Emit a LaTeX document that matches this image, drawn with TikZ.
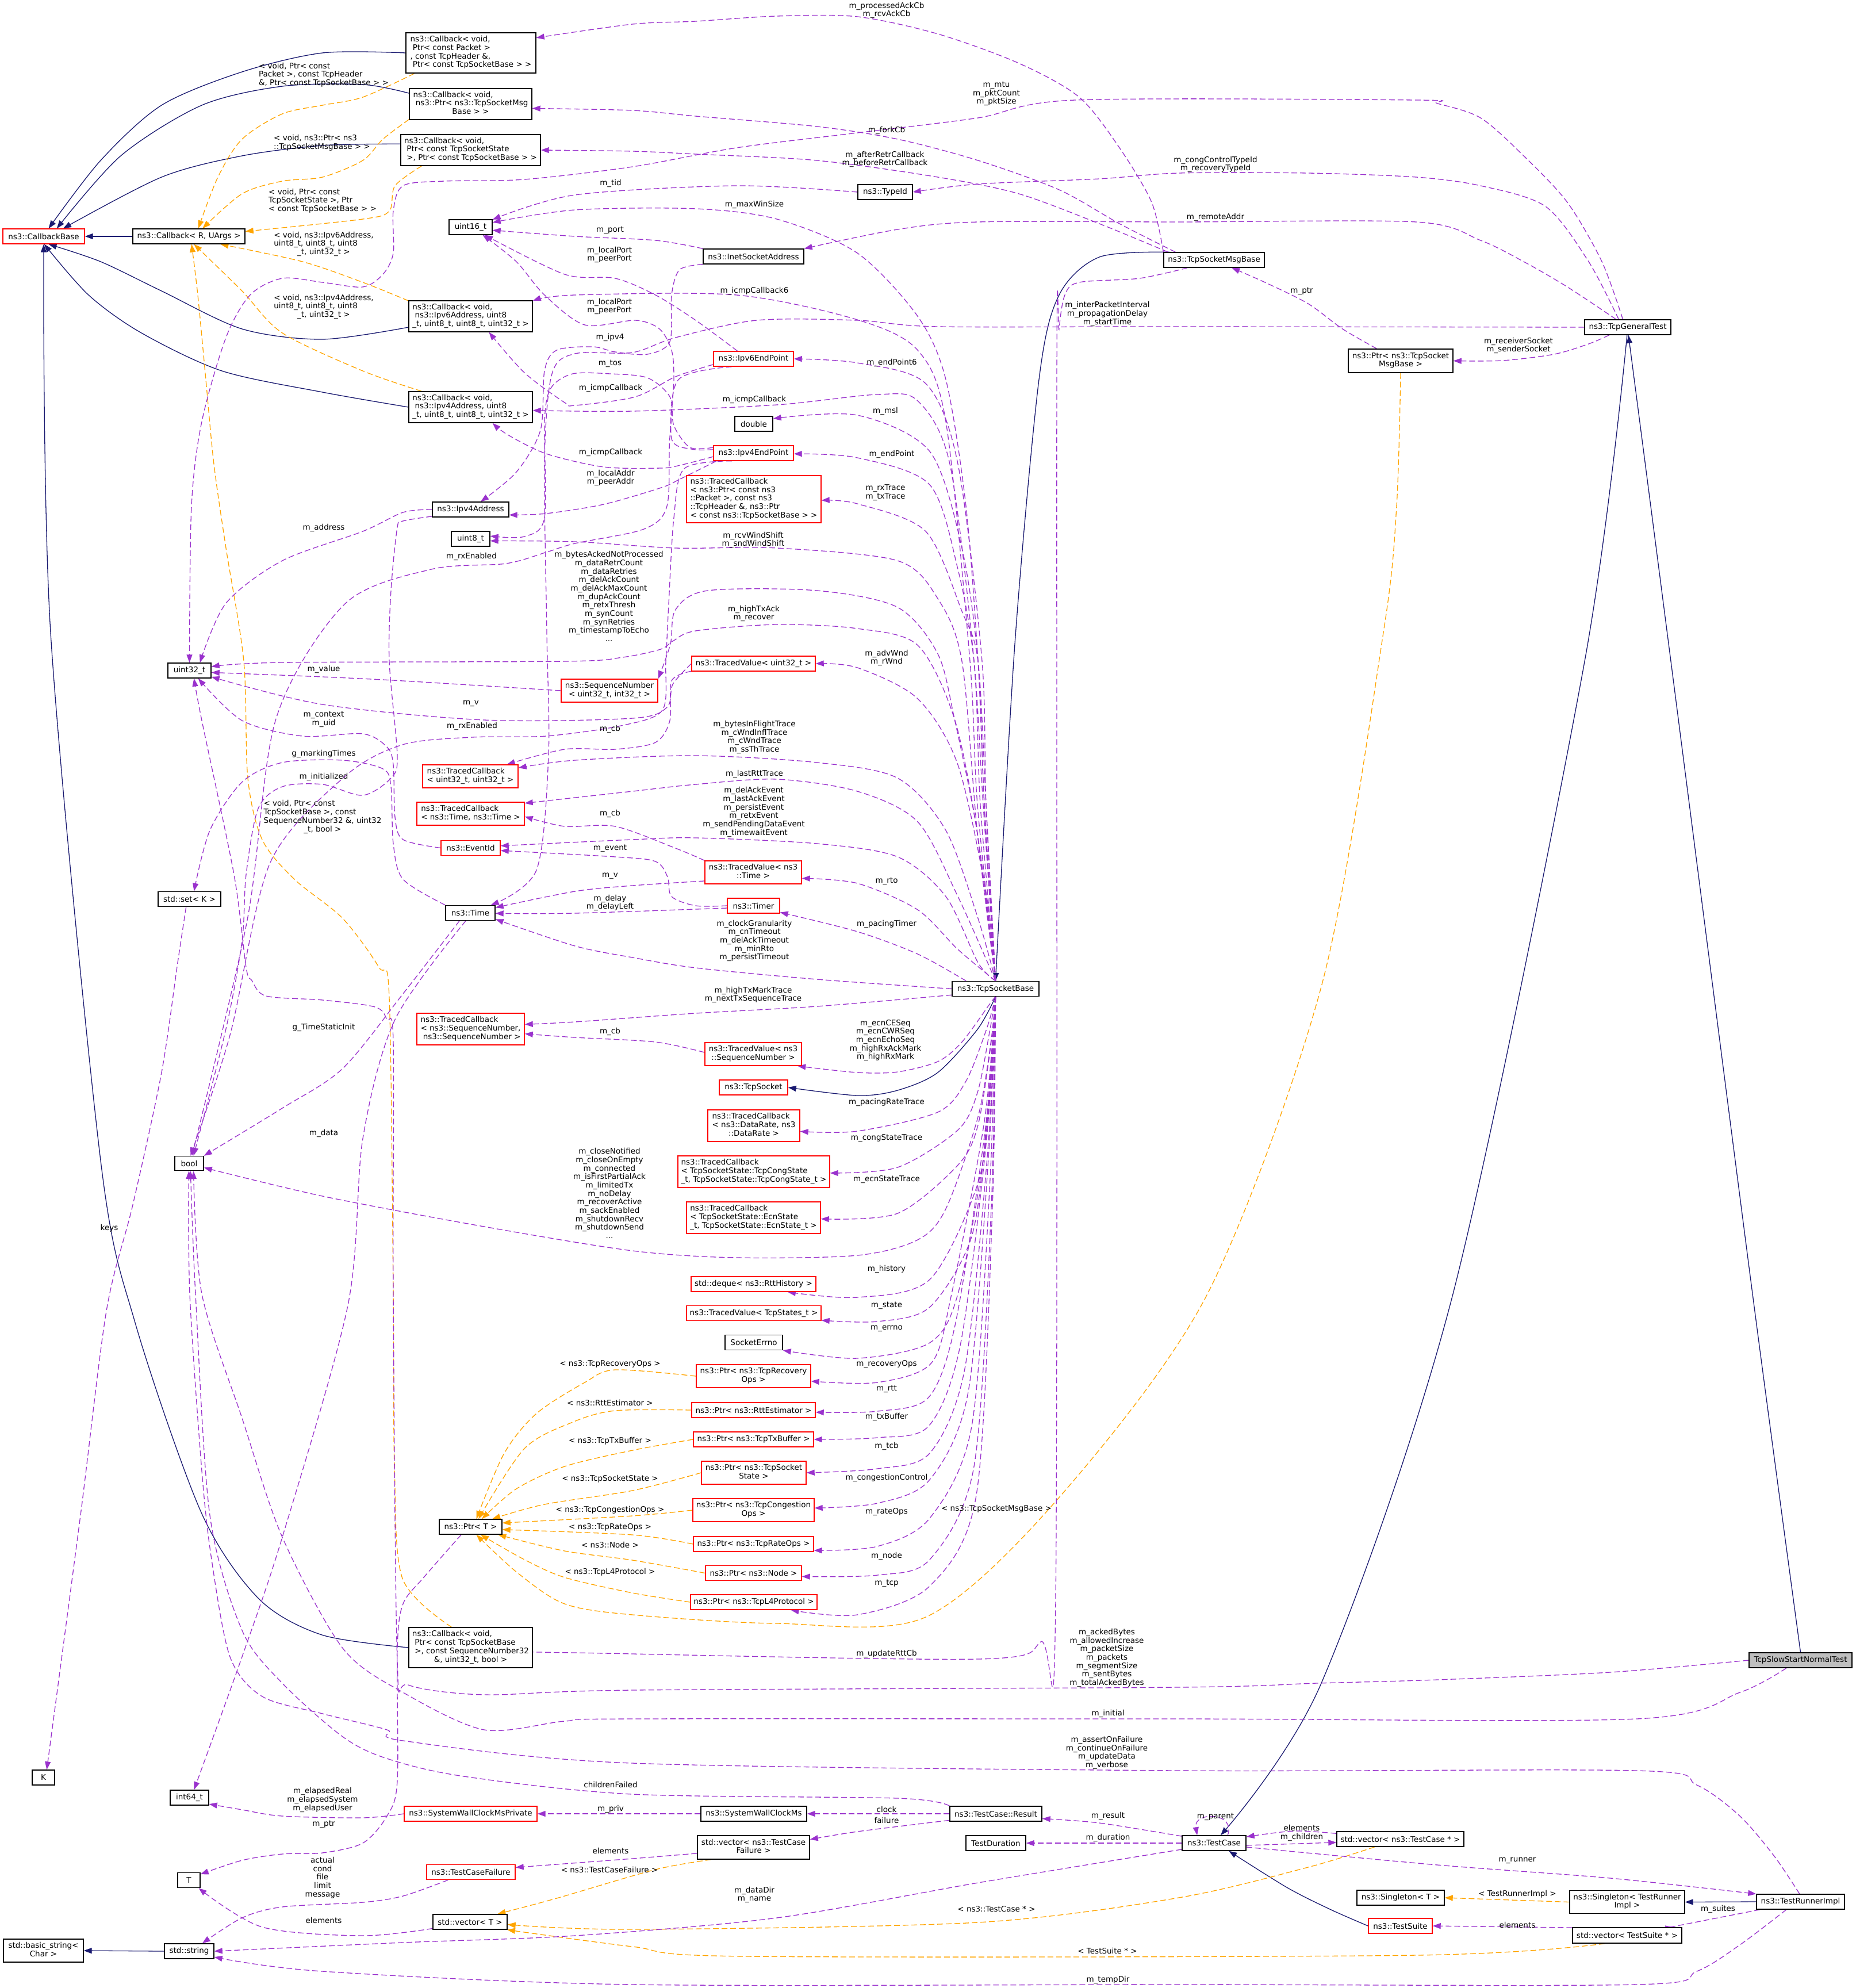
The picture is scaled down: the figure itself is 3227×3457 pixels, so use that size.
\documentclass[tikz,border=0pt]{standalone}
\usepackage{fontspec}
\setmainfont{DejaVu Sans}
\usetikzlibrary{arrows.meta,backgrounds,calc}
\definecolor{cmem}{HTML}{9A32CD}
\definecolor{cinh}{HTML}{191970}
\definecolor{ctpl}{HTML}{FFA500}
\definecolor{cgray}{HTML}{BFBFBF}
\newcommand\dfs{\fontsize{13.5}{14.7}\selectfont}
\newcommand\LL[1]{\begin{tabular}{@{}l@{}}#1\end{tabular}}
\newcommand\Lc[1]{\multicolumn{1}{@{}c@{}}{#1}}
\tikzset{
  nb/.style={draw=black, line width=1.4pt, fill=white, inner sep=0pt, font=\dfs, align=center},
  nr/.style={nb, draw=red},
  ng/.style={nb, fill=cgray},
  sz/.style 2 args={minimum width=#1pt, minimum height=#2pt},
  lb/.style={inner sep=0pt, font=\dfs, align=center},
  tip/.style={-{Triangle[length=14pt,width=10pt]}},
  mem/.style={draw=cmem, line width=1.3pt, dash pattern=on 10pt off 5pt, tip},
  inh/.style={draw=cinh, line width=1.3pt, tip},
  tpl/.style={draw=ctpl, line width=1.3pt, dash pattern=on 10pt off 5pt, tip},
}
\begin{document}
\begin{tikzpicture}[x=1pt,y=-1pt]
\useasboundingbox (0,0) rectangle (3227,3457);
% ---------------- nodes ----------------
\node[nr, sz={142}{26}] (cbb) at (76,411) {ns3::CallbackBase};
\node[nb, sz={195}{26}] (cbR) at (328.5,411) {ns3::Callback< R, UArgs >};
\node[nb, sz={226}{70}] (cbPkt) at (819,92) {\LL{ns3::Callback< void,\\\ Ptr< const Packet >\\, const TcpHeader \&,\\\Lc{\ Ptr< const TcpSocketBase > >}}};
\node[nb, sz={213}{54}] (cbMsg) at (818.5,181) {\LL{ns3::Callback< void,\\\ ns3::Ptr< ns3::TcpSocketMsg\\\Lc{Base > >}}};
\node[nb, sz={243}{54}] (cbState) at (818.5,261) {\LL{ns3::Callback< void,\\\ Ptr< const TcpSocketState\\\Lc{\ >, Ptr< const TcpSocketBase > >}}};
\node[nb, sz={75}{26}] (u16) at (818.5,395) {uint16\_t};
\node[nb, sz={215}{54}] (cbIpv6) at (818.5,550) {\LL{ns3::Callback< void,\\\ ns3::Ipv6Address, uint8\\\Lc{\_t, uint8\_t, uint8\_t, uint32\_t >}}};
\node[nb, sz={215}{54}] (cbIpv4) at (818.5,708) {\LL{ns3::Callback< void,\\\ ns3::Ipv4Address, uint8\\\Lc{\_t, uint8\_t, uint8\_t, uint32\_t >}}};
\node[nb, sz={133}{26}] (ipv4addr) at (818.5,886) {ns3::Ipv4Address};
\node[nb, sz={67}{26}] (u8) at (818.5,937) {uint8\_t};
\node[nb, sz={95}{26}] (typeid) at (1539.5,334) {ns3::TypeId};
\node[nb, sz={175}{26}] (inet) at (1310.5,446) {ns3::InetSocketAddress};
\node[nr, sz={139}{26}] (ip6ep) at (1310.5,624) {ns3::Ipv6EndPoint};
\node[nb, sz={66}{26}] (dbl) at (1311,737) {double};
\node[nr, sz={139}{26}] (ip4ep) at (1310.5,788) {ns3::Ipv4EndPoint};
\node[nr, sz={234}{82}] (tcPkt) at (1311,868) {\LL{ns3::TracedCallback\\< ns3::Ptr< const ns3\\::Packet >, const ns3\\::TcpHeader \&, ns3::Ptr\\\Lc{< const ns3::TcpSocketBase > >}}};
\node[nb, sz={175}{26}] (msgbase) at (2111.5,452) {ns3::TcpSocketMsgBase};
\node[nb, sz={150}{26}] (gentest) at (2831,569) {ns3::TcpGeneralTest};
\node[nb, sz={182}{41}] (ptrMsg) at (2436,627.5) {\LL{ns3::Ptr< ns3::TcpSocket\\\Lc{MsgBase >}}};
\node[nb, sz={75}{26}] (u32) at (329.5,1166) {uint32\_t};
\node[nr, sz={168}{40}] (seqnum) at (1060,1201) {\LL{ns3::SequenceNumber\\\Lc{< uint32\_t, int32\_t >}}};
\node[nr, sz={215}{26}] (tvU32) at (1310.5,1154) {ns3::TracedValue< uint32\_t >};
\node[nr, sz={166}{40}] (tcU32) at (818,1350) {\LL{ns3::TracedCallback\\\Lc{< uint32\_t, uint32\_t >}}};
\node[nr, sz={187}{40}] (tcTime) at (818.5,1415) {\LL{ns3::TracedCallback\\\Lc{< ns3::Time, ns3::Time >}}};
\node[nr, sz={103}{26}] (eventid) at (818.5,1474.5) {ns3::EventId};
\node[nr, sz={168}{40}] (tvTime) at (1310,1517) {\LL{ns3::TracedValue< ns3\\\Lc{::Time >}}};
\node[nb, sz={86}{26}] (time) at (818,1587.5) {ns3::Time};
\node[nr, sz={91}{26}] (timer) at (1310.5,1575) {ns3::Timer};
\node[nb, sz={109}{26}] (setK) at (329.5,1563.5) {std::set< K >};
\node[nb, sz={151}{26}] (tsb) at (1731.5,1719.5) {ns3::TcpSocketBase};
\node[nr, sz={187}{55}] (tcSeq) at (818.5,1789.5) {\LL{ns3::TracedCallback\\< ns3::SequenceNumber,\\\Lc{\ ns3::SequenceNumber >}}};
\node[nr, sz={168}{40}] (tvSeq) at (1310,1833) {\LL{ns3::TracedValue< ns3\\\Lc{::SequenceNumber >}}};
\node[nr, sz={119}{26}] (tcpsock) at (1310.5,1891) {ns3::TcpSocket};
\node[nr, sz={160}{55}] (tcRate) at (1311,1957.5) {\LL{ns3::TracedCallback\\< ns3::DataRate, ns3\\\Lc{::DataRate >}}};
\node[nr, sz={264}{55}] (tcCong) at (1311,2037.5) {\LL{ns3::TracedCallback\\< TcpSocketState::TcpCongState\\\Lc{\_t, TcpSocketState::TcpCongState\_t >}}};
\node[nb, sz={50}{25}] (bool) at (329,2023) {bool};
\node[nr, sz={233}{55}] (tcEcn) at (1310.5,2117.5) {\LL{ns3::TracedCallback\\< TcpSocketState::EcnState\\\Lc{\_t, TcpSocketState::EcnState\_t >}}};
\node[nr, sz={217}{26}] (deque) at (1310.5,2233) {std::deque< ns3::RttHistory >};
\node[nr, sz={234}{26}] (tvStates) at (1311,2283.5) {ns3::TracedValue< TcpStates\_t >};
\node[nb, sz={100}{26}] (errno) at (1311,2334.5) {SocketErrno};
\node[nr, sz={199}{40}] (pRec) at (1310.5,2393) {\LL{ns3::Ptr< ns3::TcpRecovery\\\Lc{Ops >}}};
\node[nr, sz={215}{26}] (pRtt) at (1310.5,2452) {ns3::Ptr< ns3::RttEstimator >};
\node[nr, sz={209}{26}] (pTx) at (1310.5,2503) {ns3::Ptr< ns3::TcpTxBuffer >};
\node[nr, sz={182}{40}] (pTcb) at (1311,2561) {\LL{ns3::Ptr< ns3::TcpSocket\\\Lc{State >}}};
\node[nr, sz={211}{40}] (pCong) at (1310.5,2626) {\LL{ns3::Ptr< ns3::TcpCongestion\\\Lc{Ops >}}};
\node[nr, sz={209}{26}] (pRate) at (1310.5,2685) {ns3::Ptr< ns3::TcpRateOps >};
\node[nr, sz={167}{26}] (pNode) at (1310.5,2735.5) {ns3::Ptr< ns3::Node >};
\node[nr, sz={220}{26}] (pL4) at (1311,2786) {ns3::Ptr< ns3::TcpL4Protocol >};
\node[nb, sz={109}{26}] (ptrT) at (818.5,2655) {ns3::Ptr< T >};
\node[nb, sz={215}{70}] (cbSeq) at (818.5,2865) {\LL{ns3::Callback< void,\\\ Ptr< const TcpSocketBase\\\ >, const SequenceNumber32\\\Lc{\&, uint32\_t, bool >}}};
\node[nb, sz={39}{26}] (K) at (75.5,3091) {K};
\node[nb, sz={67}{26}] (int64) at (329.5,3126) {int64\_t};
\node[nr, sz={231}{26}] (swcmp) at (818.5,3154) {ns3::SystemWallClockMsPrivate};
\node[nb, sz={39}{26}] (T) at (328.5,3269.5) {T};
\node[nr, sz={154}{26}] (tcf) at (819,3255.5) {ns3::TestCaseFailure};
\node[nb, sz={129}{26}] (vecT) at (817.5,3342) {std::vector< T >};
\node[nb, sz={139}{40}] (bstr) at (75.5,3392) {\LL{std::basic\_string<\\\Lc{Char >}}};
\node[nb, sz={86}{26}] (str) at (329,3393) {std::string};
\node[nb, sz={184}{26}] (swcm) at (1311,3154) {ns3::SystemWallClockMs};
\node[nb, sz={160}{26}] (result) at (1732,3154) {ns3::TestCase::Result};
\node[nb, sz={195}{41}] (vecTCF) at (1310.5,3212.5) {\LL{std::vector< ns3::TestCase\\\Lc{Failure >}}};
\node[nb, sz={104}{26}] (duration) at (1732,3205) {TestDuration};
\node[nb, sz={111}{26}] (testcase) at (2111.5,3205) {ns3::TestCase};
\node[nb, sz={221}{26}] (vecTC) at (2435.5,3198) {std::vector< ns3::TestCase * >};
\node[ng, sz={179}{26}] (tssnt) at (3131.5,2887) {TcpSlowStartNormalTest};
\node[nb, sz={153}{26}] (runner) at (3131.5,3307) {ns3::TestRunnerImpl};
\node[nb, sz={200}{40}] (singTR) at (2830,3307.5) {\LL{ns3::Singleton< TestRunner\\\Lc{Impl >}}};
\node[nb, sz={152}{26}] (singT) at (2436,3300) {ns3::Singleton< T >};
\node[nr, sz={111}{26}] (suite) at (2435.5,3349) {ns3::TestSuite};
\node[nb, sz={190}{27}] (vecTS) at (2830,3365.5) {std::vector< TestSuite * >};
\coordinate (mbA) at ($(msgbase.north west)+(21,0)$);
\coordinate (mbB) at ($(msgbase.north west)+(8,0)$);
\coordinate (mbC) at ($(msgbase.south west)+(42,0)$);
% ---------------- labels ----------------
\node[lb] (t1) at (563,131) {\LL{< void, Ptr< const\\Packet >, const TcpHeader\\\Lc{\&, Ptr< const TcpSocketBase > >}}};
\node[lb] (t2) at (560,249) {\LL{< void, ns3::Ptr< ns3\\\Lc{::TcpSocketMsgBase > >}}};
\node[lb] (t3) at (561,350) {\LL{< void, Ptr< const\\TcpSocketState >, Ptr\\\Lc{< const TcpSocketBase > >}}};
\node[lb] (t4) at (563,425) {\LL{< void, ns3::Ipv6Address,\\uint8\_t, uint8\_t, uint8\\\Lc{\_t, uint32\_t >}}};
\node[lb] (t5) at (563,534) {\LL{< void, ns3::Ipv4Address,\\uint8\_t, uint8\_t, uint8\\\Lc{\_t, uint32\_t >}}};
\node[lb] (t6) at (561,1421) {\LL{< void, Ptr< const\\TcpSocketBase >, const\\SequenceNumber32 \&, uint32\\\Lc{\_t, bool >}}};
\node[lb] (t7) at (1061,2372) {< ns3::TcpRecoveryOps >};
\node[lb] (t8) at (1061,2439) {< ns3::RttEstimator >};
\node[lb] (t9) at (1061,2506) {< ns3::TcpTxBuffer >};
\node[lb] (t10) at (1061,2572) {< ns3::TcpSocketState >};
\node[lb] (t11) at (1061,2626) {< ns3::TcpCongestionOps >};
\node[lb] (t12) at (1061,2656) {< ns3::TcpRateOps >};
\node[lb] (t13) at (1061,2686) {< ns3::Node >};
\node[lb] (t14) at (1061,2734) {< ns3::TcpL4Protocol >};
\node[lb] (t15) at (1733,2624) {< ns3::TcpSocketMsgBase >};
\node[lb] (t16) at (1060,3251) {< ns3::TestCaseFailure >};
\node[lb] (t17) at (1733,3320) {< ns3::TestCase * >};
\node[lb] (t18) at (1926,3392) {< TestSuite * >};
\node[lb] (t19) at (2639,3294) {< TestRunnerImpl >};
\node[lb] (m1) at (1542,18) {m\_processedAckCb\\m\_rcvAckCb};
\node[lb] (m2) at (1733,163) {m\_mtu\\m\_pktCount\\m\_pktSize};
\node[lb] (m3) at (1542,227) {m\_forkCb};
\node[lb] (m4) at (1539,277) {m\_afterRetrCallback\\m\_beforeRetrCallback};
\node[lb] (m5) at (2114,286) {m\_congControlTypeId\\m\_recoveryTypeId};
\node[lb] (m6) at (1062,319) {m\_tid};
\node[lb] (m7) at (1312,356) {m\_maxWinSize};
\node[lb] (m8) at (2114,378) {m\_remoteAddr};
\node[lb] (m9) at (1061,400) {m\_port};
\node[lb] (m10) at (1060,443) {m\_localPort\\m\_peerPort};
\node[lb] (m11) at (1312,506) {m\_icmpCallback6};
\node[lb] (m12) at (2264,506) {m\_ptr};
\node[lb] (m13) at (1060,533) {m\_localPort\\m\_peerPort};
\node[lb] (m14) at (1926,546) {m\_interPacketInterval\\m\_propagationDelay\\m\_startTime};
\node[lb] (m15) at (1061,587) {m\_ipv4};
\node[lb] (m16) at (2641,601) {m\_receiverSocket\\m\_senderSocket};
\node[lb] (m17) at (1551,631) {m\_endPoint6};
\node[lb] (m18) at (1061,632) {m\_tos};
\node[lb] (m19) at (1062,675) {m\_icmpCallback};
\node[lb] (m20) at (1312,695) {m\_icmpCallback};
\node[lb] (m21) at (1540,715) {m\_msl};
\node[lb] (m22) at (1062,787) {m\_icmpCallback};
\node[lb] (m23) at (1551,790) {m\_endPoint};
\node[lb] (m24) at (1062,831) {m\_localAddr\\m\_peerAddr};
\node[lb] (m25) at (1540,857) {m\_rxTrace\\m\_txTrace};
\node[lb] (m26) at (563,918) {m\_address};
\node[lb] (m27) at (1310,939) {m\_rcvWindShift\\m\_sndWindShift};
\node[lb] (m28) at (820,968) {m\_rxEnabled};
\node[lb] (m29) at (1059,1037) {m\_bytesAckedNotProcessed\\m\_dataRetrCount\\m\_dataRetries\\m\_delAckCount\\m\_delAckMaxCount\\m\_dupAckCount\\m\_retxThresh\\m\_synCount\\m\_synRetries\\m\_timestampToEcho\\...};
\node[lb] (m30) at (1311,1067) {m\_highTxAck\\m\_recover};
\node[lb] (m31) at (1542,1144) {m\_advWnd\\m\_rWnd};
\node[lb] (m32) at (563,1164) {m\_value};
\node[lb] (m33) at (819,1223) {m\_v};
\node[lb] (m34) at (563,1251) {m\_context\\m\_uid};
\node[lb] (m35) at (1312,1282) {m\_bytesInFlightTrace\\m\_cWndInflTrace\\m\_cWndTrace\\m\_ssThTrace};
\node[lb] (m36) at (821,1263) {m\_rxEnabled};
\node[lb] (m37) at (1061,1268) {m\_cb};
\node[lb] (m38) at (563,1311) {g\_markingTimes};
\node[lb] (m39) at (1312,1346) {m\_lastRttTrace};
\node[lb] (m40) at (563,1351) {m\_initialized};
\node[lb] (m41) at (1311,1412) {m\_delAckEvent\\m\_lastAckEvent\\m\_persistEvent\\m\_retxEvent\\m\_sendPendingDataEvent\\m\_timewaitEvent};
\node[lb] (m42) at (1061,1415) {m\_cb};
\node[lb] (m43) at (1061,1475) {m\_event};
\node[lb] (m44) at (1061,1523) {m\_v};
\node[lb] (m45) at (1542,1532) {m\_rto};
\node[lb] (m46) at (1061,1570) {m\_delay\\m\_delayLeft};
\node[lb] (m47) at (1542,1607) {m\_pacingTimer};
\node[lb] (m48) at (1312,1636) {m\_clockGranularity\\m\_cnTimeout\\m\_delAckTimeout\\m\_minRto\\m\_persistTimeout};
\node[lb] (m49) at (1310,1730) {m\_highTxMarkTrace\\m\_nextTxSequenceTrace};
\node[lb] (m50) at (1540,1809) {m\_ecnCESeq\\m\_ecnCWRSeq\\m\_ecnEchoSeq\\m\_highRxAckMark\\m\_highRxMark};
\node[lb] (m51) at (563,1787) {g\_TimeStaticInit};
\node[lb] (m52) at (1061,1794) {m\_cb};
\node[lb] (m53) at (1542,1917) {m\_pacingRateTrace};
\node[lb] (m54) at (563,1971) {m\_data};
\node[lb] (m55) at (1542,1979) {m\_congStateTrace};
\node[lb] (m56) at (1542,2051) {m\_ecnStateTrace};
\node[lb] (m57) at (1060,2075) {m\_closeNotified\\m\_closeOnEmpty\\m\_connected\\m\_isFirstPartialAck\\m\_limitedTx\\m\_noDelay\\m\_recoverActive\\m\_sackEnabled\\m\_shutdownRecv\\m\_shutdownSend\\...};
\node[lb] (m58) at (190,2136) {keys};
\node[lb] (m59) at (1542,2207) {m\_history};
\node[lb] (m60) at (1542,2270) {m\_state};
\node[lb] (m61) at (1542,2310) {m\_errno};
\node[lb] (m62) at (1542,2372) {m\_recoveryOps};
\node[lb] (m63) at (1542,2415) {m\_rtt};
\node[lb] (m64) at (1542,2464) {m\_txBuffer};
\node[lb] (m65) at (1542,2515) {m\_tcb};
\node[lb] (m66) at (1542,2570) {m\_congestionControl};
\node[lb] (m67) at (1542,2629) {m\_rateOps};
\node[lb] (m68) at (1542,2706) {m\_node};
\node[lb] (m69) at (1542,2753) {m\_tcp};
\node[lb] (m70) at (1542,2876) {m\_updateRttCb};
\node[lb] (m71) at (1925,2883) {m\_ackedBytes\\m\_allowedIncrease\\m\_packetSize\\m\_packets\\m\_segmentSize\\m\_sentBytes\\m\_totalAckedBytes};
\node[lb] (m72) at (1927,2980) {m\_initial};
\node[lb] (m73) at (1925,3048) {m\_assertOnFailure\\m\_continueOnFailure\\m\_updateData\\m\_verbose};
\node[lb] (m74) at (1062,3103) {childrenFailed};
\node[lb] (m75) at (561,3130) {m\_elapsedReal\\m\_elapsedSystem\\m\_elapsedUser};
\node[lb] (m76) at (1062,3146) {m\_priv};
\node[lb] (m77) at (1542,3146) {clock};
\node[lb] (m78) at (2114,3159) {m\_parent};
\node[lb] (m79) at (1927,3158) {m\_result};
\node[lb] (m80) at (1542,3165) {failure};
\node[lb] (m81) at (563,3172) {m\_ptr};
\node[lb] (m82) at (2264,3178) {elements};
\node[lb] (m83) at (2264,3195) {m\_children};
\node[lb] (m84) at (1927,3196) {m\_duration};
\node[lb] (m85) at (1062,3218) {elements};
\node[lb] (m86) at (2639,3235) {m\_runner};
\node[lb] (m87) at (561,3265) {actual\\cond\\file\\limit\\message};
\node[lb] (m88) at (1312,3295) {m\_dataDir\\m\_name};
\node[lb] (m89) at (2988,3320) {m\_suites};
\node[lb] (m90) at (563,3339) {elements};
\node[lb] (m91) at (2639,3347) {elements};
\node[lb] (m92) at (1927,3443) {m\_tempDir};
% ---------------- edges ----------------
\begin{pgfonlayer}{background}
\fill[white] (0,0) rectangle (3227,3457);
% inheritance
\draw[inh] plot[smooth] coordinates {(cbPkt.west) (561,92) (421,125) (281,183) (175,279) (cbb.58)};
\draw[inh] plot[smooth] coordinates {(cbMsg.170) (631,147) (491,150) (351,183) (210,271) (cbb.31)};
\draw[inh] plot[smooth] coordinates {(cbState.175) (561,253) (421,271) (281,308) (cbb.22)};
\draw[inh] (cbR.west) -- (cbb.east);
\draw[inh] plot[smooth] coordinates {(cbIpv6.-170) (561,590) (421,572) (281,506) (175,455) (cbb.-58)};
\draw[inh] plot[smooth] coordinates {(cbIpv4.west) (561,682) (386,645) (246,579) (154,513) (cbb.-86)};
\draw[inh] plot[smooth] coordinates {(cbSeq.west) (560,2843) (450,2780) (350,2630) (235,2300) (175,2018) (88,1100) (cbb.south)};
\draw[inh] plot[smooth] coordinates {(msgbase.170) (1912,447) (1842,513) (1807,660) (1765,1120) (tsb.north)};
\draw[inh] plot[smooth] coordinates {(tsb.south) (1700,1790) (1631,1865) (1561,1896) (1491,1905) (tcpsock.east)};
\draw[inh] plot[smooth] coordinates {(gentest.-95) (2756,1150) (2527,2250) (2298,2927) (testcase.50)};
\draw[inh] plot[smooth] coordinates {(tssnt.north) (3048,2250) (2906,1150) (gentest.-85)};
\draw[inh] plot[smooth] coordinates {(suite.west) (2313,3320) (2238,3282) (testcase.-28)};
\draw[inh] (runner.west) -- (singTR.east);
\draw[inh] (str.west) -- (bstr.east);
% templates
\draw[tpl] plot[smooth] coordinates {(cbPkt.200) (631,169) (561,183) (491,198) (421,242) (379,308) (cbR.40)};
\draw[tpl] plot[smooth] coordinates {(cbMsg.194) (666,242) (631,279) (561,308) (491,315) (421,337) (cbR.30)};
\draw[tpl] plot[smooth] coordinates {(cbState.-162) (687,323) (677,367) (631,381) (cbR.5)};
\draw[tpl] plot[smooth] coordinates {(cbIpv6.166) (631,491) (526,455) (cbR.-14)};
\draw[tpl] plot[smooth] coordinates {(cbIpv4.162) (631,645) (491,579) (421,506) (cbR.-57)};
\draw[tpl] plot[smooth] coordinates {(cbSeq.133) (700,2745) (686,2550) (684,2250) (677,1735) (659,1682) (596,1597) (512,1529) (456,1460) (431,1353) (424,1150) (393,953) (372,807) (358,660) (344,513) (cbR.-71)};
\draw[tpl] plot[smooth] coordinates {(pRec.west) (1070,2382) (1017,2404) (933,2458) (877,2527) (ptrT.54)};
\draw[tpl] plot[smooth] coordinates {(pRtt.west) (1070,2453) (996,2473) (912,2519) (ptrT.45)};
\draw[tpl] plot[smooth] coordinates {(pTx.west) (1100,2522) (982,2550) (898,2589) (ptrT.35)};
\draw[tpl] plot[smooth] coordinates {(pTcb.west) (1100,2592) (947,2616) (ptrT.20)};
\draw[tpl] plot[smooth] coordinates {(pCong.west) (1100,2636) (ptrT.7)};
\draw[tpl] plot[smooth] coordinates {(pRate.west) (1100,2669) (ptrT.-5)};
\draw[tpl] plot[smooth] coordinates {(pNode.west) (1100,2713) (982,2697) (ptrT.-16)};
\draw[tpl] plot[smooth] coordinates {(pL4.west) (1100,2770) (982,2743) (912,2712) (ptrT.-38)};
\draw[tpl] plot[smooth] coordinates {(ptrMsg.south) (2429,880) (2406,1100) (2299,1712) (2100,2250) (1842,2604) (1610,2812) (1351,2823) (1100,2808) (982,2789) (900,2735) (ptrT.-54)};
\draw[tpl] plot[smooth] coordinates {(vecTCF.196) (1140,3251) (968,3301) (vecT.16)};
\draw[tpl] plot[smooth] coordinates {(vecTC.197) (2275,3247) (2050,3300) (1700,3343) (1100,3355) (vecT.-4)};
\draw[tpl] plot[smooth] coordinates {(vecTS.200) (2463,3400) (1300,3402) (1100,3385) (vecT.-12)};
\draw[tpl] (singTR.west) -- (singT.east);
% members of TcpSocketMsgBase
\draw[mem] plot[smooth] coordinates {(msgbase.north west) (2003,352) (1947,257) (1877,169) (1772,110) (1631,59) (1491,29) (1351,28) (1210,37) (1100,42) (cbPkt.13)};
\draw[mem] plot[smooth] coordinates {(mbA) (1947,389) (1842,330) (1701,279) (1561,242) (1421,220) (1210,202) (1100,192) (cbMsg.-4)};
\draw[mem] plot[smooth] coordinates {(mbB) (1912,389) (1772,337) (1631,308) (1421,279) (1210,268) (1100,263) (cbState.east)};
\draw[mem] plot[smooth] coordinates {(mbC) (1982,484) (1877,491) (1852,513) (1842,572) (1838,660) (1836,2780) (1810,2855) (1701,2885) (1000,2874) (cbSeq.-4)};
% members of TcpGeneralTest
\draw[mem] plot[smooth] coordinates {(gentest.122) (2786,455) (2726,352) (2650,271) (2575,205) (2500,180) (2463,174) (1870,174) (1701,205) (1491,231) (1281,257) (1100,290) (912,312) (772,315) (701,323) (684,367) (684,440) (666,477) (631,499) (561,491) (491,484) (435,513) (393,587) (351,733) (333,880) (u32.north)};
\draw[mem] plot[smooth] coordinates {(gentest.139) (2763,455) (2688,359) (2575,323) (2463,308) (2275,301) (2050,301) (1912,311) (1701,320) (typeid.east)};
\draw[mem] plot[smooth] coordinates {(gentest.146) (2726,499) (2650,455) (2575,418) (2463,386) (2050,386) (1701,386) (1561,399) (inet.north east)};
\draw[mem] plot[smooth] coordinates {(gentest.west) (2050,568) (1631,568) (1491,557) (1316,557) (1175,587) (1100,613) (1000,615) (960,650) (947,800) (951,1100) (954,1314) (933,1513) (time.21)};
\draw[mem] plot[smooth] coordinates {(gentest.-157) (2763,598) (2703,616) (2613,627) (ptrMsg.east)};
\draw[mem] plot[smooth] coordinates {(ptrMsg.153) (2335,572) (2275,528) (2200,491) (msgbase.-24)};
% TcpSlowStartNormalTest
\draw[mem] plot[smooth] coordinates {(tssnt.west) (2800,2908) (2500,2921) (2290,2927) (2050,2934) (1100,2939) (842,2947) (710,2930) (691,2890) (684,2250) (684,1812) (673,1773) (652,1751) (561,1739) (463,1732) (438,1705) (428,1682) (407,1521) (351,1253) (u32.-60)};
\draw[mem] plot[smooth] coordinates {(tssnt.-151) (3026,2943) (2846,2989) (2050,2989) (1100,2989) (982,2993) (842,3008) (701,2943) (596,2866) (491,2673) (421,2466) (351,2250) (bool.-60)};
% bool from below
\draw[mem] plot[smooth] coordinates {(result.north west) (1561,3127) (1100,3120) (807,3089) (673,3058) (596,3020) (491,2927) (421,2835) (365,2635) (340,2250) (bool.-80)};
\draw[mem] plot[smooth] coordinates {(runner.97) (3086,3228) (3026,3158) (2951,3104) (2846,3079) (2050,3079) (1100,3066) (701,3027) (673,3008) (561,2980) (456,2950) (400,2881) (368,2712) (351,2558) (330,2250) (bool.-92)};
\draw[mem] plot[smooth] coordinates {(runner.-151) (3026,3382) (2951,3428) (2846,3451) (2050,3451) (1100,3451) (561,3428) (str.-13)};
% TestCase
\draw[mem] (testcase.30) .. controls (2150,3150) and (2075,3150) .. (testcase.155);
\draw[mem] plot[smooth] coordinates {(testcase.168) (1912,3170) (result.-6)};
\draw[mem] (testcase.west) -- (duration.east);
\draw[mem] (testcase.-4) -- (vecTC.183);
\draw[mem] plot[smooth] coordinates {(vecTC.175) (2250,3184) (testcase.11)};
\draw[mem] plot[smooth] coordinates {(testcase.-7) (2500,3243) (2801,3266) (runner.170)};
\draw[mem] plot[smooth] coordinates {(testcase.191) (1701,3274) (1351,3335) (1000,3366) (700,3378) (str.east)};
\draw[mem] plot[smooth] coordinates {(runner.-169) (2906,3351) (vecTS.10)};
\draw[mem] (vecTS.172) -- (suite.east);
\draw[mem] plot[smooth] coordinates {(vecT.190) (631,3366) (456,3351) (T.-39)};
\draw[mem] plot[smooth] coordinates {(ptrT.-140) (737,2743) (701,2789) (691,2866) (691,3097) (673,3158) (631,3205) (561,3222) (491,3224) (421,3235) (T.27)};
\draw[mem] plot[smooth] coordinates {(swcmp.west) (631,3161) (491,3158) (421,3147) (int64.-18)};
\draw[mem] (swcm.west) -- (swcmp.east);
\draw[mem] (result.west) -- (swcm.east);
\draw[mem] plot[smooth] coordinates {(result.-172) (1491,3185) (vecTCF.8)};
\draw[mem] plot[smooth] coordinates {(vecTCF.-174) (1100,3232) (tcf.6)};
\draw[mem] plot[smooth] coordinates {(tcf.-161) (701,3297) (631,3308) (491,3316) (421,3335) (str.31)};
% left column
\draw[mem] plot[smooth] coordinates {(setK.-113) (309,1674) (281,1865) (231,2095) (185,2280) (140,2635) (K.67)};
\draw[mem] plot[smooth] coordinates {(time.north west) (701,1529) (684,1467) (680,1368) (666,1337) (596,1322) (491,1326) (421,1360) (365,1444) (setK.60)};
\draw[mem] plot[smooth] coordinates {(time.-144) (701,1728) (596,1858) (491,1927) (bool.north east)};
\draw[mem] plot[smooth] coordinates {(time.-120) (687,1773) (631,1980) (605,2270) (491,2673) (421,2881) (int64.60)};
\draw[mem] plot[smooth] coordinates {(ipv4addr.west) (701,891) (631,924) (491,975) (393,1049) (u32.37)};
\draw[mem] plot[smooth] coordinates {(ipv4addr.-170) (701,906) (691,917) (680,1027) (677,1150) (691,1314) (680,1353) (631,1383) (561,1364) (491,1368) (449,1406) (428,1521) (421,1636) (393,1789) (bool.60)};
\draw[mem] plot[smooth] coordinates {(eventid.west) (701,1460) (687,1421) (684,1330) (673,1299) (631,1276) (526,1280) (421,1253) (u32.-42)};
\draw[mem] plot[smooth] coordinates {(seqnum.west) (701,1184) (561,1177) (u32.-5)};
\draw[mem] plot[smooth] coordinates {(tvU32.west) (1170,1190) (1160,1230) (1100,1249) (842,1252) (561,1225) (u32.-16)};
\draw[mem] plot[smooth] coordinates {(tvU32.-173) (1168,1184) (1165,1253) (1140,1291) (1070,1303) (982,1303) (tcU32.18)};
% InetSocketAddress, TypeId, endpoints
\draw[mem] plot[smooth] coordinates {(inet.north west) (1140,418) (1000,411) (u16.-8)};
\draw[mem] plot[smooth] coordinates {(inet.south west) (1182,469) (1168,513) (1165,594) (1126,616) (1070,612) (1031,603) (968,609) (947,645) (940,748) (898,821) (ipv4addr.38)};
\draw[mem] plot[smooth] coordinates {(typeid.west) (1281,323) (1000,339) (u16.19)};
\draw[mem] plot[smooth] coordinates {(ip6ep.154) (1210,557) (1140,513) (1070,484) (982,477) (u16.-29)};
\draw[mem] plot[smooth] coordinates {(ip4ep.175) (1203,781) (1168,763) (1172,660) (1168,609) (1147,572) (1105,557) (1017,565) (947,513) (898,455) (u16.-33)};
\draw[mem] plot[smooth] coordinates {(ip6ep.-172) (1175,655) (1105,690) (1000,705) (982,700) (912,648) (cbIpv6.-41)};
\draw[mem] plot[smooth] coordinates {(ip6ep.-160) (1180,660) (1165,760) (1160,880) (1120,920) (1000,945) (951,960) (880,980) (750,990) (600,1050) (480,1250) (430,1600) (bool.70)};
\draw[mem] plot[smooth] coordinates {(ip4ep.172) (1200,778) (1172,740) (1165,690) (1126,657) (1061,650) (996,650) (958,675) (947,733) (947,900) (912,933) (u8.8)};
\draw[mem] plot[smooth] coordinates {(ip4ep.-175) (1183,809) (1150,814) (1050,812) (950,789) (883,756) (cbIpv4.-36)};
\draw[mem] plot[smooth] coordinates {(ip4ep.-168) (1183,833) (1150,848) (1050,877) (950,893) (ipv4addr.-8)};
\draw[mem] plot[smooth] coordinates {(ip4ep.-160) (1190,815) (1172,900) (1163,1050) (1158,1150) (1152,1235) (1080,1262) (950,1280) (821,1282) (700,1295) (600,1350) (470,1500) (400,1800) (bool.80)};
% TcpSocketBase upward
\draw[mem] plot[smooth] coordinates {(tsb.north) (1712,1400) (1701,1150) (1680,880) (1645,660) (1596,550) (1491,440) (1351,381) (1210,363) (1000,365) (u16.12)};
\draw[mem] plot[smooth] coordinates {(tsb.north) (1700,1400) (1687,1150) (1645,733) (1596,609) (1491,556) (1281,513) (1000,513) (cbIpv6.14)};
\draw[mem] plot[smooth] coordinates {(tsb.north) (1705,1400) (1694,1150) (1652,807) (1596,697) (1526,686) (1351,704) (1100,715) (cbIpv4.-3)};
\draw[mem] plot[smooth] coordinates {(tsb.north) (1715,1400) (1708,1150) (1666,807) (1610,667) (1491,631) (ip6ep.east)};
\draw[mem] plot[smooth] coordinates {(tsb.north) (1712,1400) (1701,1150) (1673,953) (1617,785) (1491,722) (dbl.15)};
\draw[mem] plot[smooth] coordinates {(tsb.north) (1710,1400) (1694,1150) (1666,990) (1617,843) (1491,796) (ip4ep.-1)};
\draw[mem] plot[smooth] coordinates {(tsb.north) (1715,1400) (1701,1150) (1673,1063) (1610,924) (1491,876) (tcPkt.-1)};
\draw[mem] plot[smooth] coordinates {(tsb.north) (1700,1450) (1673,1150) (1631,1041) (1561,975) (1351,953) (1175,953) (1000,942) (u8.-6)};
\draw[mem] plot[smooth] coordinates {(tsb.north) (1700,1450) (1660,1250) (1596,1122) (1491,1093) (1351,1086) (1210,1097) (1170,1115) (1149,1129) (1083,1143) (983,1150) (491,1152) (u32.10)};
\draw[mem] plot[smooth] coordinates {(tsb.north) (1700,1450) (1660,1250) (1631,1137) (1561,1056) (1421,1027) (1231,1027) (1175,1060) (1166,1120) (seqnum.north east)};
\draw[mem] plot[smooth] coordinates {(tsb.north) (1716,1559) (1666,1330) (1596,1215) (1491,1161) (tvU32.east)};
\draw[mem] plot[smooth] coordinates {(tsb.north) (1701,1597) (1645,1444) (1561,1353) (1421,1326) (1210,1314) (1000,1322) (tcU32.10)};
\draw[mem] plot[smooth] coordinates {(tsb.north) (1666,1559) (1596,1429) (1491,1376) (1351,1355) (1210,1364) (1100,1376) (tcTime.11)};
\draw[mem] plot[smooth] coordinates {(tsb.north) (1701,1674) (1645,1559) (1561,1490) (1421,1467) (1210,1457) (1100,1460) (eventid.4)};
\draw[mem] plot[smooth] coordinates {(tsb.north) (1666,1651) (1596,1582) (1491,1536) (tvTime.-7)};
\draw[mem] plot[smooth] coordinates {(tsb.165) (1596,1659) (1491,1620) (timer.-14)};
\draw[mem] plot[smooth] coordinates {(tsb.west) (1421,1703) (1210,1683) (1100,1665) (1000,1645) (time.-14)};
\draw[mem] plot[smooth] coordinates {(tsb.-172) (1421,1750) (1210,1762) (1000,1777) (tcSeq.5)};
% TracedValue / Timer
\draw[mem] plot[smooth] coordinates {(tvTime.north west) (1175,1475) (1070,1437) (982,1437) (tcTime.-3)};
\draw[mem] plot[smooth] coordinates {(timer.west) (1210,1575) (1168,1559) (1161,1525) (1140,1498) (1070,1490) (eventid.-5)};
\draw[mem] plot[smooth] coordinates {(tvTime.-170) (1100,1540) (1000,1550) (time.12)};
\draw[mem] plot[smooth] coordinates {(timer.-175) (1000,1588) (time.-1)};
\draw[mem] plot[smooth] coordinates {(tvSeq.178) (1140,1812) (1000,1804) (tcSeq.-5)};
% TcpSocketBase downward
\draw[mem] plot[smooth] coordinates {(tsb.south) (1722,1745) (1673,1812) (1631,1846) (1561,1864) (1491,1865) (tvSeq.-15)};
\draw[mem] plot[smooth] coordinates {(tsb.south) (1716,1789) (1680,1880) (1631,1934) (1491,1967) (tcRate.-7)};
\draw[mem] plot[smooth] coordinates {(tsb.south) (1722,1789) (1700,1900) (1666,1965) (1561,2030) (tcCong.-1)};
\draw[mem] plot[smooth] coordinates {(tsb.south) (1722,1827) (1700,1960) (1666,2026) (1561,2110) (tcEcn.-1)};
\draw[mem] plot[smooth] coordinates {(tsb.south) (1725,1800) (1701,1942) (1645,2102) (1596,2156) (1491,2183) (1281,2187) (1100,2175) (842,2133) (561,2080) (bool.-16)};
\draw[mem] plot[smooth] coordinates {(tsb.south) (1722,1900) (1701,2057) (1617,2225) (1491,2256) (deque.-13)};
\draw[mem] plot[smooth] coordinates {(tsb.south) (1716,1950) (1690,2150) (1617,2273) (1526,2298) (tvStates.-6)};
\draw[mem] plot[smooth] coordinates {(tsb.south) (1712,2000) (1666,2250) (1617,2335) (1491,2362) (errno.-15)};
\draw[mem] plot[smooth] coordinates {(tsb.south) (1712,1950) (1655,2250) (1620,2370) (1526,2404) (pRec.-5)};
\draw[mem] plot[smooth] coordinates {(tsb.south) (1714,1960) (1662,2300) (1615,2430) (1526,2454) (pRtt.-2)};
\draw[mem] plot[smooth] coordinates {(tsb.south) (1716,1980) (1670,2340) (1615,2480) (1526,2500) (pTx.east)};
\draw[mem] plot[smooth] coordinates {(tsb.south) (1718,2000) (1678,2380) (1617,2527) (1526,2554) (pTcb.east)};
\draw[mem] plot[smooth] coordinates {(tsb.south) (1720,2000) (1684,2420) (1617,2573) (1526,2614) (pCong.2)};
\draw[mem] plot[smooth] coordinates {(tsb.south) (1722,2050) (1690,2480) (1617,2640) (1526,2689) (pRate.-6)};
\draw[mem] plot[smooth] coordinates {(tsb.south) (1724,2100) (1694,2550) (1617,2712) (1526,2739) (pNode.-4)};
\draw[mem] plot[smooth] coordinates {(tsb.south) (1726,2100) (1698,2600) (1617,2758) (1491,2808) (pL4.-12)};
\end{pgfonlayer}
\end{tikzpicture}
\end{document}
